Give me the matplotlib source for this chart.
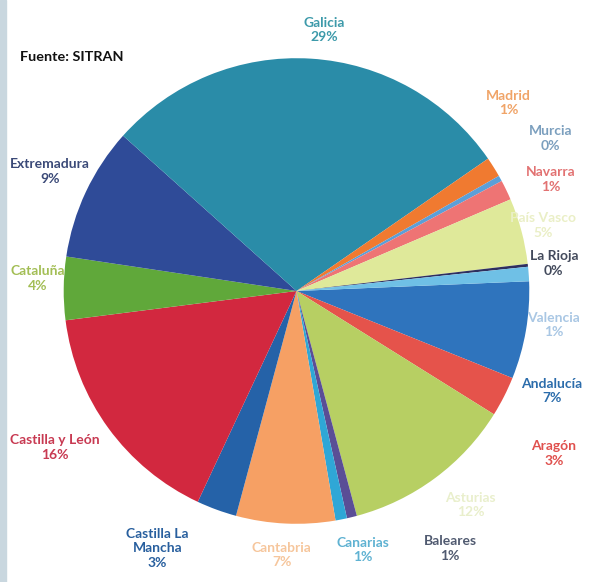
import matplotlib
matplotlib.use("Agg")
import matplotlib.pyplot as plt
from matplotlib.patches import Rectangle

regions = ["Andalucía", "Aragón", "Asturias", "Baleares", "Canarias", "Cantabria",
           "Castilla La\nMancha", "Castilla y León", "Cataluña", "Extremadura", "Galicia",
           "Madrid", "Murcia", "Navarra", "País Vasco", "La Rioja", "Valencia"]
shares = [6.8, 2.8, 12.0, 0.7, 0.8, 6.9, 2.8, 16.1, 4.4, 9.3, 28.9, 1.4, 0.4, 1.4, 4.6, 0.2, 1.0]
pct_labels = ["7%", "3%", "12%", "1%", "1%", "7%", "3%", "16%", "4%", "9%", "29%",
              "1%", "0%", "1%", "5%", "0%", "1%"]

slice_colors = ["#2f74bd", "#e5534b", "#b7cf63", "#5a4e96", "#2fa7d6", "#f6a064",
                "#2562a8", "#d2283f", "#60a83a", "#2f4b98", "#2a8ca8",
                "#f07a30", "#5b9fd8", "#ee7474", "#dfe99a", "#2e2f5e", "#6fc0e6"]
text_colors = ["#2b6cab", "#e0514e", "#e9efcc", "#505a70", "#5fb2d2", "#f6c69c",
               "#285f9e", "#c83a52", "#a3be55", "#3b4a78", "#3d9aaa",
               "#f0a468", "#7b9fbe", "#e27272", "#eaefc6", "#434a5c", "#a9c7e4",]
# label anchor positions in pixel space of the reference (x, y)
label_px = [(566, 397), (568, 461), (483, 514), (462, 558), (373, 560), (290, 565),
            (163, 558), (58, 455), (40, 282), (53, 173), (333, 28),
            (522, 103), (565, 139), (565, 181), (557, 228), (568, 267), (568, 330)]

W, H = 593, 582
CX, CY, R = 305, 295, 238

fig = plt.figure(figsize=(W / 100, H / 100), dpi=100)
ax = fig.add_axes([0, 0, 1, 1])
ax.set_xlim(-CX / R, (W - CX) / R)
ax.set_ylim((CY - H) / R, CY / R)
ax.set_aspect("equal")
ax.axis("off")

ax.pie(shares, colors=slice_colors, startangle=2.4, counterclock=False, radius=1.0,
       wedgeprops=dict(linewidth=0))

font = ["Lato", "DejaVu Sans"]
for name, pct, col, (px, py) in zip(regions, pct_labels, text_colors, label_px):
    x = (px - CX) / R
    y = (CY - py) / R
    ax.text(x, y, f"{name}\n{pct}", ha="center", va="center", color=col,
            fontsize=10, fontweight="bold", family=font, linespacing=1.25)

ax.text((22 - CX) / R, (CY - 56) / R, "Fuente: SITRAN", ha="left", va="center",
        color="#111111", fontsize=10.4, fontweight="bold", family=font)

# scan edge strip on the left
fig.patches.append(Rectangle((0, 0), 6 / W, 1, transform=fig.transFigure,
                             color="#c9d7df", zorder=0))

fig.savefig("out.png", dpi=100)
